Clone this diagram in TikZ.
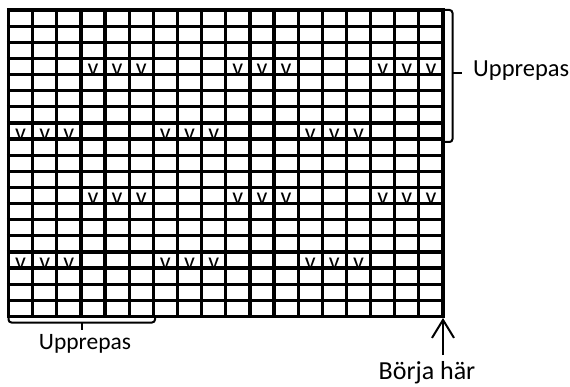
\documentclass[tikz,border=0pt]{standalone}
\usepackage{fontspec}
\setmainfont{Carlito}
\usetikzlibrary{arrows.meta}
\begin{document}
\begin{tikzpicture}[x=1pt,y=-1pt,
  gridline/.style={line width=3.2pt,black},
  bracket/.style={line width=2pt,black,rounded corners=3pt},
  lbl/.style={font=\fontsize{24.5}{27}\selectfont,inner sep=0pt},
  vmark/.style={font=\fontsize{24}{26}\selectfont,inner sep=0pt,anchor=base}]
\useasboundingbox (0,0) rectangle (570,387);
\def\xo{8.5}\def\yo{10}\def\cw{24.14}\def\rh{16.13}
% v marks (drawn before lines so the lines cover their feet)
\foreach \c in {4,5,6,10,11,12,16,17,18}{
  \node[vmark] (va\c) at ({\xo+(\c-0.5)*\cw},{\yo+4*\rh+1}) {v};
  \node[vmark] (vc\c) at ({\xo+(\c-0.5)*\cw},{\yo+12*\rh+1}) {v};
}
\foreach \c in {1,2,3,7,8,9,13,14,15}{
  \node[vmark] (vb\c) at ({\xo+(\c-0.5)*\cw},{\yo+8*\rh+1}) {v};
  \node[vmark] (vd\c) at ({\xo+(\c-0.5)*\cw},{\yo+16*\rh+1}) {v};
}
% grid
\foreach \i in {0,...,19}
  \draw[gridline] (\xo-1.6,{\yo+\i*\rh}) -- ({\xo+18*\cw+1.6},{\yo+\i*\rh});
\foreach \j in {0,...,18}
  \draw[gridline] ({\xo+\j*\cw},\yo-1.6) -- ({\xo+\j*\cw},{\yo+19*\rh+1.6});
% right bracket
\coordinate (rt) at (444,10);
\coordinate (rb) at (444,142);
\draw[bracket] (rt) -- (452.5,10) -- (452.5,142) -- (rb);
\draw[line width=2pt] (452.5,73) -- (462,73);
\node[lbl,anchor=base west] (rep1) at (473,77) {Upprepas};
% bottom bracket
\coordinate (bl) at (8.5,316);
\coordinate (br) at (155,316);
\draw[bracket] (bl) -- (8.5,322.5) -- (155,322.5) -- (br);
\draw[line width=2pt] (82,322.5) -- (82,329.5);
\node[lbl,anchor=base,font=\fontsize{23.5}{26}\selectfont] (rep2) at (85,349) {Upprepas};
% start arrow
\node[lbl,anchor=base,font=\fontsize{26}{28}\selectfont] (start) at (427,379) {Börja här};
\coordinate (atip) at (443,318);
\coordinate (abot) at (443,355);
\draw[line width=2pt,-{Straight Barb[length=18pt,width=22pt,line width=2pt]}] (abot) -- (atip);
\end{tikzpicture}
\end{document}
